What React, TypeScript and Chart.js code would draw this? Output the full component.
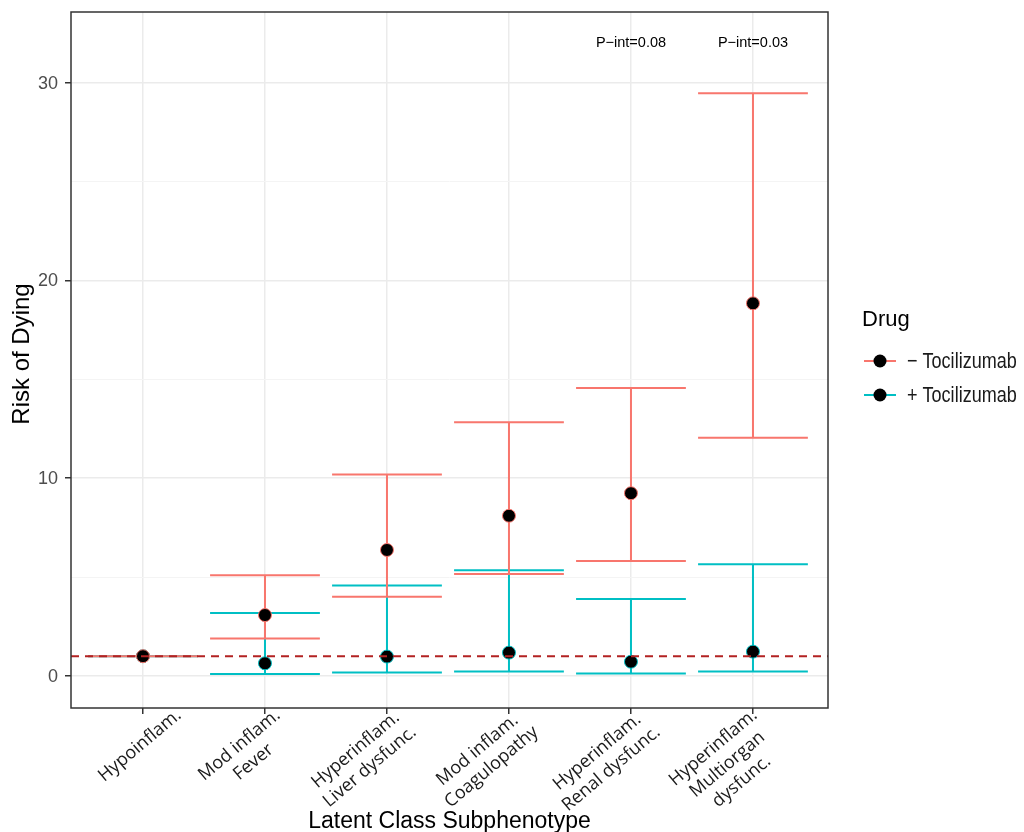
import { useEffect, useRef } from "react";
import { Chart, registerables } from "chart.js";

Chart.register(...registerables);

// ---------- data ----------
const categories: string[][] = [
  ["Hypoinflam."],
  ["Mod inflam.", "Fever"],
  ["Hyperinflam.", "Liver dysfunc."],
  ["Mod inflam.", "Coagulopathy"],
  ["Hyperinflam.", "Renal dysfunc."],
  ["Hyperinflam.", "Multiorgan", "dysfunc."],
];

const seriesNames = ["\u2212 Tocilizumab", "+ Tocilizumab"];

// − Tocilizumab
const minusEst = [1, 3.08, 6.37, 8.1, 9.24, 18.84];
const minusLo = [1, 1.9, 4.01, 5.16, 5.81, 12.05];
const minusHi = [1, 5.09, 10.18, 12.83, 14.56, 29.46];

// + Tocilizumab
const plusEst = [1, 0.64, 0.98, 1.18, 0.72, 1.23];
const plusLo = [1, 0.1, 0.17, 0.22, 0.12, 0.22];
const plusHi = [1, 3.18, 4.57, 5.34, 3.89, 5.65];

const pIntLabels = ["", "", "", "", "P\u2212int=0.08", "P\u2212int=0.03"];
const pIntY = 32;
const refValue = 1;

const yTicks = [0, 5, 10, 15, 20, 25, 30];
const yLabelTicks = [0, 10, 20, 30];
const yMin = -1.62;
const yMax = 33.57;
const xMin = -0.59;
const xMax = 5.615;

const legendTitle = "Drug";
const xTitle = "Latent Class Subphenotype";
const yTitle = "Risk of Dying";

// ---------- styles ----------
const RED = "#F8766D";
const TEAL = "#00BFC4";
const WHISKER = 0.45;
const SANS = "'Liberation Sans', Arial, sans-serif";
const LABEL_ANGLE = (40 * Math.PI) / 180;
const LABEL_SHIFT_BY_LINES = [30, 7, -4];

const customPlugin = {
  id: "ggCustom",
  beforeDatasetsDraw(chart: any) {
    const { ctx, scales } = chart;
    const x = scales.x;
    const y = scales.y;
    const drawBars = (lo: number[], hi: number[], color: string) => {
      ctx.save();
      ctx.strokeStyle = color;
      ctx.lineWidth = 2;
      ctx.lineCap = "butt";
      lo.forEach((l, i) => {
        const h = hi[i];
        const xc = x.getPixelForValue(i);
        const xl = x.getPixelForValue(i - WHISKER);
        const xr = x.getPixelForValue(i + WHISKER);
        const yl = y.getPixelForValue(l);
        const yh = y.getPixelForValue(h);
        ctx.beginPath();
        ctx.moveTo(xl, yh);
        ctx.lineTo(xr, yh);
        ctx.moveTo(xl, yl);
        ctx.lineTo(xr, yl);
        ctx.moveTo(xc, yh);
        ctx.lineTo(xc, yl);
        ctx.stroke();
      });
      ctx.restore();
    };
    drawBars(plusLo, plusHi, TEAL);
    drawBars(minusLo, minusHi, RED);
  },
  afterDatasetsDraw(chart: any) {
    const { ctx, chartArea: a, scales } = chart;
    const x = scales.x;
    const y = scales.y;
    // reference dashed line
    ctx.save();
    ctx.beginPath();
    ctx.rect(a.left, a.top, a.right - a.left, a.bottom - a.top);
    ctx.clip();
    ctx.setLineDash([8, 6]);
    ctx.strokeStyle = "#B22222";
    ctx.lineWidth = 2;
    const yy = y.getPixelForValue(refValue);
    ctx.beginPath();
    ctx.moveTo(a.left, yy);
    ctx.lineTo(a.right, yy);
    ctx.stroke();
    ctx.restore();

    // P-int annotations
    ctx.save();
    ctx.fillStyle = "#000";
    ctx.font = `14.5px ${SANS}`;
    ctx.textAlign = "center";
    ctx.textBaseline = "middle";
    pIntLabels.forEach((t, i) => {
      if (!t) return;
      ctx.fillText(t, x.getPixelForValue(i), y.getPixelForValue(pIntY));
    });
    ctx.restore();

    // panel border
    ctx.save();
    ctx.strokeStyle = "#333333";
    ctx.lineWidth = 1.5;
    ctx.strokeRect(a.left, a.top, a.right - a.left, a.bottom - a.top);
    ctx.restore();
  },
  afterDraw(chart: any) {
    const { ctx, chartArea: a, scales } = chart;
    const x = scales.x;
    const y = scales.y;

    // y tick labels
    ctx.save();
    ctx.fillStyle = "#4D4D4D";
    ctx.font = `18px ${SANS}`;
    ctx.textAlign = "right";
    ctx.textBaseline = "middle";
    yLabelTicks.forEach((v) => {
      ctx.fillText(String(v), a.left - 13, y.getPixelForValue(v) + 1);
    });
    ctx.restore();

    // category labels, rotated
    ctx.save();
    ctx.fillStyle = "#1a1a1a";
    ctx.font = "18px 'Open Sans', sans-serif";
    ctx.textAlign = "center";
    ctx.textBaseline = "top";
    const lineH = 22;
    categories.forEach((lines, i) => {
      const n = lines.length;
      const widths = lines.map((l) => ctx.measureText(l).width);
      const W = Math.max(...widths);
      const ax = x.getPixelForValue(i) + LABEL_SHIFT_BY_LINES[Math.min(n, 3) - 1];
      const ay = a.bottom - 2;
      ctx.save();
      ctx.translate(ax, ay);
      ctx.rotate(-LABEL_ANGLE);
      lines.forEach((l, k) => {
        ctx.fillText(l, -W / 2, k * lineH);
      });
      ctx.restore();
    });
    ctx.restore();

    // axis titles
    ctx.save();
    ctx.fillStyle = "#000";
    ctx.textAlign = "center";
    ctx.textBaseline = "alphabetic";
    ctx.font = `23px ${SANS}`;
    ctx.fillText(xTitle, (a.left + a.right) / 2, 828);
    ctx.font = `24px ${SANS}`;
    ctx.translate(29, (a.top + a.bottom) / 2 - 6);
    ctx.rotate(-Math.PI / 2);
    ctx.fillText(yTitle, 0, 0);
    ctx.restore();

    // legend
    ctx.save();
    ctx.fillStyle = "#000";
    ctx.font = `22px ${SANS}`;
    ctx.textAlign = "left";
    ctx.textBaseline = "alphabetic";
    ctx.fillText(legendTitle, 862, 326);
    const rows = [
      { label: seriesNames[0], color: RED, y: 361 },
      { label: seriesNames[1], color: TEAL, y: 395 },
    ];
    rows.forEach((r) => {
      ctx.strokeStyle = r.color;
      ctx.lineWidth = 2;
      ctx.beginPath();
      ctx.moveTo(864, r.y);
      ctx.lineTo(896, r.y);
      ctx.stroke();
      ctx.beginPath();
      ctx.arc(880, r.y, 6.5, 0, Math.PI * 2);
      ctx.fillStyle = "#000";
      ctx.fill();
      ctx.save();
      ctx.translate(907, r.y);
      ctx.scale(0.82, 1);
      ctx.font = `22px ${SANS}`;
      ctx.fillStyle = "#1a1a1a";
      ctx.textBaseline = "middle";
      ctx.fillText(r.label, 0, 1);
      ctx.restore();
    });
    ctx.restore();
  },
};

export default function App() {
  const canvasRef = useRef<HTMLCanvasElement | null>(null);

  useEffect(() => {
    document.body.style.margin = "0";
    const canvas = canvasRef.current;
    if (!canvas) return;

    const isMajor = (c: any) => c.tick && Math.round(c.tick.value) % 10 === 0;

    const chart = new Chart(canvas, {
      type: "scatter",
      data: {
        datasets: [
          {
            label: seriesNames[0],
            data: minusEst.map((v, i) => ({ x: i, y: v })),
            backgroundColor: "#000",
            borderColor: RED,
            borderWidth: 1,
            pointRadius: 6.5,
            showLine: false,
          },
          {
            label: seriesNames[1],
            data: plusEst.map((v, i) => ({ x: i, y: v })),
            backgroundColor: "#000",
            borderColor: TEAL,
            borderWidth: 1,
            pointRadius: 6.5,
            showLine: false,
          },
        ],
      },
      options: {
        animation: false,
        responsive: false,
        devicePixelRatio: 1,
        events: [],
        layout: { padding: { left: 0, top: 12, right: 196, bottom: 0 } },
        plugins: {
          legend: { display: false },
          tooltip: { enabled: false },
        },
        scales: {
          x: {
            type: "linear",
            min: xMin,
            max: xMax,
            afterBuildTicks: (s: any) => {
              s.ticks = categories.map((_, i) => ({ value: i }));
            },
            afterFit: (s: any) => {
              s.height = 124;
            },
            ticks: { display: false },
            grid: {
              color: "#EBEBEB",
              lineWidth: 1.5,
              drawTicks: true,
              tickLength: 6,
              tickColor: "#333333",
              tickWidth: 1.5,
            },
            border: { display: false },
          },
          y: {
            type: "linear",
            min: yMin,
            max: yMax,
            afterBuildTicks: (s: any) => {
              s.ticks = yTicks.map((v) => ({ value: v }));
            },
            afterFit: (s: any) => {
              s.width = 71;
            },
            ticks: { display: false },
            grid: {
              color: (c: any) => (isMajor(c) ? "#EBEBEB" : "#F4F4F4"),
              lineWidth: (c: any) => (isMajor(c) ? 1.5 : 1),
              tickColor: (c: any) => (isMajor(c) ? "#333333" : "rgba(0,0,0,0)"),
              drawTicks: true,
              tickLength: 6,
              tickWidth: 1.5,
            },
            border: { display: false },
          },
        },
      } as any,
      plugins: [customPlugin],
    });

    return () => chart.destroy();
  }, []);

  return (
    <div
      style={{
        position: "absolute",
        left: 0,
        top: 0,
        width: 1024,
        height: 832,
        background: "#fff",
      }}
    >
      <canvas ref={canvasRef} width={1024} height={832} />
    </div>
  );
}
